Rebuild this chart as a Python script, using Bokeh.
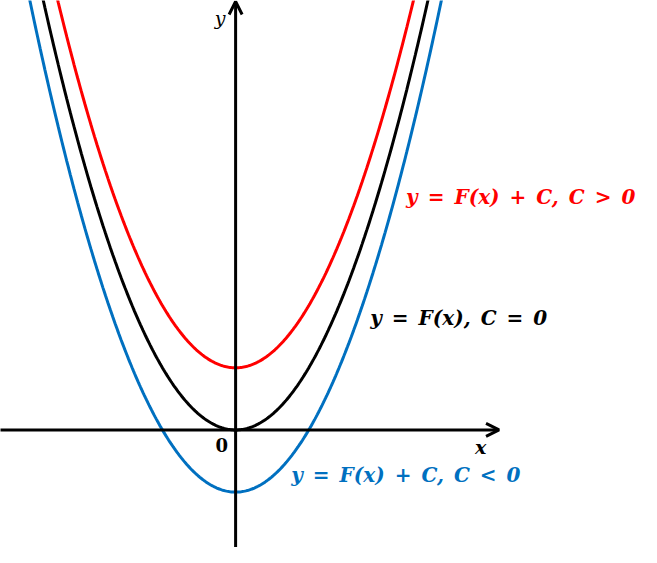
import numpy as np
from bokeh.plotting import figure
from bokeh.models import Arrow, OpenHead, Range1d
from bokeh.core.properties import value
from bokeh.embed import file_html
from bokeh.resources import INLINE

# Data: vertical shifts C of y = F(x) + C, with F(x) = x^2
shifts = [1.0, 0.0, -1.0]
colors = ["#ff0000", "#000000", "#0070c0"]
sp = "\u2002"
labels = [f"y{sp}={sp}F(x){sp}+{sp}C,{sp}C{sp}>{sp}0",
          f"y{sp}={sp}F(x),{sp}C{sp}={sp}0",
          f"y{sp}={sp}F(x){sp}+{sp}C,{sp}C{sp}<{sp}0"]
label_x = [2.33, 1.84, 0.76]
label_y = [3.75, 1.80, -0.73]

x = np.linspace(-3.3, 3.3, 400)

p = figure(width=641, height=547, output_backend="svg", toolbar_location=None,
           x_range=Range1d(-3.213, 5.547), y_range=Range1d(-1.891, 6.906),
           min_border=0)
p.axis.visible = False
p.grid.visible = False
p.outline_line_color = None

for c, col in zip(shifts, colors):
    p.line(x, x ** 2 + c, line_color=col, line_width=3)

# axes with arrows
p.add_layout(Arrow(end=OpenHead(size=13, line_width=3, line_color="black"),
                   x_start=-3.3, y_start=0, x_end=3.6, y_end=0,
                   line_width=3, line_color="black"))
p.add_layout(Arrow(end=OpenHead(size=13, line_width=3, line_color="black"),
                   x_start=0, y_start=-2.0, x_end=0, y_end=6.89,
                   line_width=3, line_color="black"))

font = value("DejaVu Serif")
p.text(x=[-0.21], y=[6.63], text=["y"], text_font=font, text_font_style="italic",
       text_font_size="19px", text_align="center", text_baseline="middle", text_color="black")
p.text(x=[3.35], y=[-0.28], text=["x"], text_font=font, text_font_style="bold italic",
       text_font_size="19px", text_align="center", text_baseline="middle", text_color="black")
p.text(x=[-0.19], y=[-0.25], text=["0"], text_font=font, text_font_style="bold",
       text_font_size="18px", text_align="center", text_baseline="middle", text_color="black")

for lx, ly, t, col in zip(label_x, label_y, labels, colors):
    p.text(x=[lx], y=[ly], text=[t], text_font=font, text_font_style="bold italic",
           text_font_size="20px", text_align="left", text_baseline="middle", text_color=col)

open("out.html", "w").write(file_html(p, INLINE))
